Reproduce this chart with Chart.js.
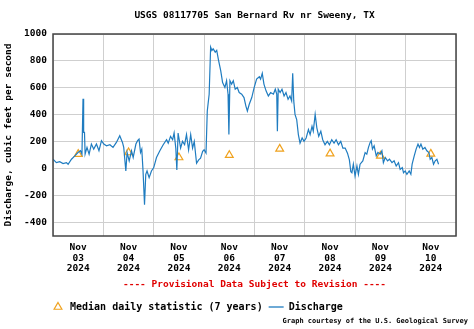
<!DOCTYPE html>
<html>
<head>
<meta charset="utf-8">
<script src="https://cdn.jsdelivr.net/npm/chart.js@4.4.0/dist/chart.umd.min.js"></script>
<style>
  html, body { margin: 0; padding: 0; background: #fff; }
</style>
</head>
<body>
<canvas id="chart" width="474" height="329"></canvas>
<script>
// Discharge trace, hours since Nov 03 2024 00:00 and cfs
var flowHours = [
  0, 1.6, 3.2, 4.8, 6.4, 7.2, 8.8, 10.4, 11.9, 13.1, 13.8, 14.3, 14.6, 15.0, 15.3, 16.2, 17.2, 18.3, 19.4, 20.7,
  21.9, 23.1, 24.2, 25.5, 27.1, 28.6, 30.2, 31.8, 33.1, 33.7, 34.7, 35.3, 36.3, 37.4, 38.2, 39.5, 40.3, 41.0, 41.7, 42.3,
  42.9, 43.6, 44.2, 44.8, 45.8, 46.9, 48.0, 49.3, 50.9, 52.5, 54.1, 54.9, 56.0, 57.0, 57.7, 58.5, 59.0, 59.6, 60.8, 61.7,
  62.7, 63.6, 64.6, 65.6, 66.5, 67.3, 68.4, 69.4, 70.3, 71.3, 72.0, 72.9, 73.5, 74.4, 75.1, 75.7, 76.3, 77.3, 78.0, 78.9,
  79.9, 80.8, 81.9, 82.7, 83.4, 83.8, 84.3, 85.1, 85.9, 86.8, 87.8, 88.7, 89.9, 91.0, 91.9, 92.6, 93.5, 94.7, 95.8, 97.0,
  98.3, 98.9, 99.7, 100.5, 101.5, 102.6, 103.7, 105.0, 105.9, 106.6, 106.9, 107.3, 108.2, 109.1, 110.1, 111.0, 112.0, 112.9, 113.7, 114.2,
  114.7, 115.3, 116.1, 116.9, 117.7, 118.7, 119.6, 120.6, 121.7, 122.5, 123.4, 124.0, 124.9, 125.7, 126.6, 127.6, 128.5, 129.6, 130.7, 131.7,
  132.8, 133.9, 134.9, 136.0, 137.1, 138.1, 139.2, 140.3, 141.2, 141.9, 142.4, 143.1, 143.9, 144.8, 145.5, 146.3, 147.6, 148.7, 149.5, 150.3,
  151.1, 151.6, 152.2, 153.0, 154.0, 154.8, 155.9, 156.7, 157.4, 158.3, 159.4, 160.3, 161.5, 162.5, 163.5, 164.6, 165.4, 166.4, 167.0, 167.8,
  168.6, 169.7, 170.5, 171.1, 172.1, 173.0, 173.9, 174.6, 175.3, 176.2, 177.2, 178.1, 179.1, 179.7, 180.5, 181.3, 182.1, 182.9, 183.7
];
var flowCfs = [
  70, 45, 52, 38, 45, 33, 70, 95, 120, 133, 108, 520, 270, 270, 108, 158, 108, 183, 145, 183,
  133, 208, 183, 170, 178, 158, 195, 245, 195, 158, -17, 120, 58, 133, 83, 183, 208, 220, 120, 145,
  -17, -267, -42, -17, -67, -17, 8, 83, 133, 178, 215, 190, 240, 215, 265, 153, -10, 265, 153, 203,
  178, 253, 140, 253, 153, 203, 40, 65, 78, 128, 140, 115, 428, 553, 903, 878, 890, 865, 878, 803,
  728, 640, 603, 653, 553, 253, 653, 628, 653, 590, 603, 565, 553, 528, 465, 428, 478, 528, 600, 665,
  683, 665, 708, 628, 578, 540, 565, 553, 590, 553, 278, 590, 565, 590, 540, 565, 515, 540, 503, 708,
  503, 403, 365, 253, 190, 228, 203, 228, 290, 253, 315, 278, 403, 303, 240, 278, 215, 178, 203, 178,
  215, 190, 215, 178, 203, 153, 153, 115, 65, -23, -30, 33, -55, 20, -42, 33, 58, 120, 108, 158,
  195, 208, 145, 170, 95, 120, 108, 133, 45, 83, 58, 70, 45, 58, 20, 45, -5, 8, -30, -17,
  -42, -17, -42, 33, 95, 145, 183, 158, 183, 145, 158, 133, 120, 70, 83, 33, 58, 70, 33
];

// Median daily statistic, one per day at noon
var medianHours = [12, 36, 60, 84, 108, 132, 156, 180];
var medianCfs = [108, 120, 83, 100, 147, 112, 95, 110];

// Tick labels
var dayLabels = ['03', '04', '05', '06', '07', '08', '09', '10'];
var yTicks = [-400, -200, 0, 200, 400, 600, 800, 1000];

var MONO = '"DejaVu Sans Mono", "Liberation Mono", monospace';
var LINE_BLUE = '#1f7cc0';
var TRI_ORANGE = '#f0a21e';

var flowPoints = flowHours.map(function(h, i) { return { x: h, y: flowCfs[i] }; });
var medianPoints = medianHours.map(function(h, i) { return { x: h, y: medianCfs[i] }; });

function drawTriangle(ctx, x, y, r) {
  ctx.beginPath();
  for (var k = 0; k < 3; k++) {
    var a = k * 2 * Math.PI / 3;
    var px = x + Math.sin(a) * r, py = y - Math.cos(a) * r;
    if (k === 0) ctx.moveTo(px, py); else ctx.lineTo(px, py);
  }
  ctx.closePath();
  ctx.stroke();
}

// Frame, title, notes and legend
var decorations = {
  id: 'decorations',
  afterDatasetsDraw: function(chart) {
    var ctx = chart.ctx, a = chart.chartArea;
    ctx.save();
    ctx.strokeStyle = '#444';
    ctx.lineWidth = 1.5;
    ctx.strokeRect(a.left, a.top, a.right - a.left, a.bottom - a.top);
    ctx.restore();
  },
  afterDraw: function(chart) {
    var ctx = chart.ctx, a = chart.chartArea;
    var mid = (a.left + a.right) / 2;
    ctx.save();
    ctx.textBaseline = 'middle';
    ctx.textAlign = 'center';
    ctx.fillStyle = '#000';
    ctx.font = 'bold 9.5px ' + MONO;
    ctx.fillText('USGS 08117705 San Bernard Rv nr Sweeny, TX', mid, 16);

    ctx.fillStyle = '#e00000';
    ctx.fillText('---- Provisional Data Subject to Revision ----', mid, 285);

    // legend
    var ly = 307;
    ctx.strokeStyle = TRI_ORANGE;
    ctx.lineWidth = 1.2;
    drawTriangle(ctx, 58, ly, 4.5);
    ctx.fillStyle = '#000';
    ctx.textAlign = 'left';
    ctx.font = 'bold 10px ' + MONO;
    var t1 = 'Median daily statistic (7 years)';
    ctx.fillText(t1, 70, ly);
    var lx = 70 + ctx.measureText(t1).width + 6;
    ctx.strokeStyle = LINE_BLUE;
    ctx.lineWidth = 1.3;
    ctx.beginPath();
    ctx.moveTo(lx, ly);
    ctx.lineTo(lx + 15, ly);
    ctx.stroke();
    ctx.fillText('Discharge', lx + 20, ly);

    ctx.font = 'bold 7px ' + MONO;
    ctx.textAlign = 'right';
    ctx.fillText('Graph courtesy of the U.S. Geological Survey', 468, 321);
    ctx.restore();
  }
};

new Chart(document.getElementById('chart'), {
  type: 'line',
  data: {
    datasets: [
      {
        label: 'Discharge',
        data: flowPoints,
        borderColor: LINE_BLUE,
        borderWidth: 1.2,
        pointRadius: 0,
        tension: 0,
        order: 0
      },
      {
        label: 'Median daily statistic (7 years)',
        data: medianPoints,
        showLine: false,
        pointStyle: 'triangle',
        pointRadius: 4.5,
        pointBorderWidth: 1.2,
        pointBorderColor: TRI_ORANGE,
        pointBackgroundColor: 'rgba(0,0,0,0)',
        order: 1
      }
    ]
  },
  options: {
    responsive: false,
    animation: false,
    layout: { padding: { top: 34, right: 18, bottom: 53, left: 0 } },
    plugins: {
      legend: { display: false },
      tooltip: { enabled: false }
    },
    scales: {
      x: {
        type: 'linear',
        min: 0,
        max: 192,
        border: { display: false },
        grid: {
          drawTicks: false,
          lineWidth: 1,
          color: function(c) {
            var v = c.tick && c.tick.value;
            return (v % 24 === 0) ? '#cfcfcf' : 'rgba(0,0,0,0)';
          }
        },
        ticks: {
          stepSize: 12,
          autoSkip: false,
          maxRotation: 0,
          padding: 6,
          color: '#000',
          font: { family: MONO, size: 9.5, weight: 'bold', lineHeight: 1.13 },
          callback: function(v) {
            if (v % 24 === 12) return ['Nov', dayLabels[(v - 12) / 24], '2024'];
            return '';
          }
        },
        afterFit: function(s) { s.height = 40; }
      },
      y: {
        min: -500,
        max: 1000,
        border: { display: false },
        afterBuildTicks: function(s) {
          s.ticks = yTicks.map(function(v) { return { value: v }; });
        },
        grid: { drawTicks: false, color: '#cfcfcf', lineWidth: 1 },
        ticks: {
          padding: 6,
          color: '#000',
          font: { family: MONO, size: 9.5, weight: 'bold' },
          callback: function(v) { return String(v); }
        },
        title: {
          display: true,
          text: 'Discharge, cubic feet per second',
          color: '#000',
          padding: { top: 3, bottom: 0 },
          font: { family: MONO, size: 9.5, weight: 'bold' }
        },
        afterFit: function(s) { s.width = 53; }
      }
    }
  },
  plugins: [decorations]
});
</script>
</body>
</html>
